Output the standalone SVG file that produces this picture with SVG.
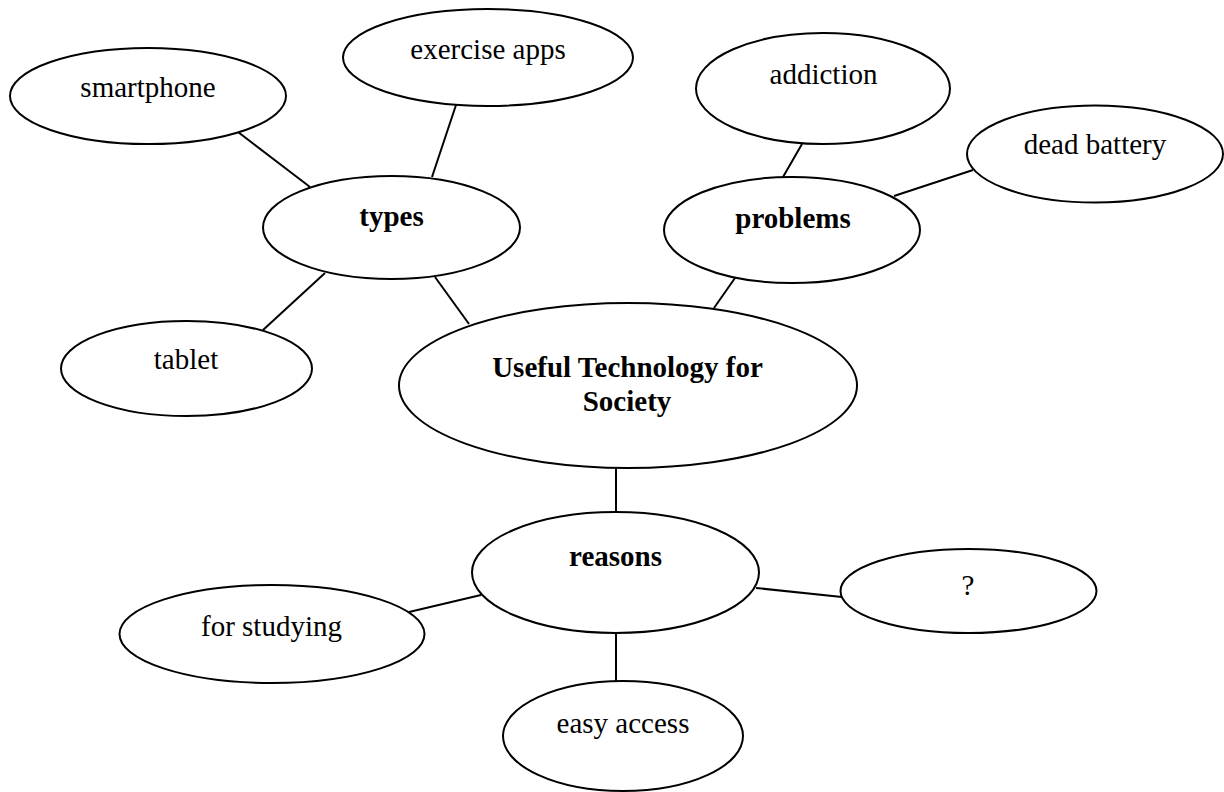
<svg xmlns="http://www.w3.org/2000/svg" width="1224" height="792" viewBox="0 0 1224 792">
<style>
.n ellipse{fill:#fff;stroke:#000;stroke-width:2}
.n text{font-family:"Liberation Serif","Times New Roman",serif;font-size:29px;text-anchor:middle;fill:#000}
.b text{font-weight:bold}
#edges line{stroke:#000;stroke-width:2}
</style>
<rect width="1224" height="792" fill="#fff"/>
<g id="edges">
<line x1="238" y1="132" x2="310" y2="187"/>
<line x1="456" y1="105" x2="432" y2="177"/>
<line x1="263" y1="330" x2="325" y2="273"/>
<line x1="435" y1="277" x2="469" y2="324"/>
<line x1="802" y1="144" x2="783" y2="177"/>
<line x1="973" y1="170" x2="894" y2="196"/>
<line x1="735" y1="278" x2="714" y2="308"/>
<line x1="616" y1="468" x2="616" y2="512"/>
<line x1="481" y1="595" x2="409" y2="612"/>
<line x1="756" y1="588" x2="842" y2="597"/>
<line x1="616" y1="633" x2="616" y2="682"/>
</g>
<g id="smartphone" class="n"><ellipse cx="148" cy="96" rx="138" ry="48"/><text x="148" y="97">smartphone</text></g>
<g id="exercise-apps" class="n"><ellipse cx="488" cy="57.5" rx="145" ry="48.5"/><text x="488" y="59">exercise apps</text></g>
<g id="addiction" class="n"><ellipse cx="823" cy="88.5" rx="127" ry="55.5"/><text x="823.5" y="84">addiction</text></g>
<g id="dead-battery" class="n"><ellipse cx="1095" cy="154" rx="128" ry="48.5"/><text x="1095" y="154">dead battery</text></g>
<g id="types" class="n b"><ellipse cx="391.5" cy="227.5" rx="128.5" ry="51.5"/><text x="391.5" y="226">types</text></g>
<g id="problems" class="n b"><ellipse cx="792" cy="230" rx="128" ry="53"/><text x="793" y="228">problems</text></g>
<g id="tablet" class="n"><ellipse cx="186.5" cy="368.5" rx="125.5" ry="47.5"/><text x="186" y="369">tablet</text></g>
<g id="center" class="n b"><ellipse cx="628" cy="385.5" rx="229" ry="82.5"/><text x="627.5" y="377">Useful Technology for</text><text x="627" y="411">Society</text></g>
<g id="reasons" class="n b"><ellipse cx="615.5" cy="572.5" rx="143.5" ry="60.5"/><text x="615.5" y="566">reasons</text></g>
<g id="question" class="n"><ellipse cx="968.5" cy="591" rx="128" ry="42"/><text x="968" y="595">?</text></g>
<g id="for-studying" class="n"><ellipse cx="272" cy="634" rx="152.5" ry="49"/><text x="271.5" y="636">for studying</text></g>
<g id="easy-access" class="n"><ellipse cx="623" cy="736" rx="120" ry="55"/><text x="623" y="733">easy access</text></g>
</svg>
